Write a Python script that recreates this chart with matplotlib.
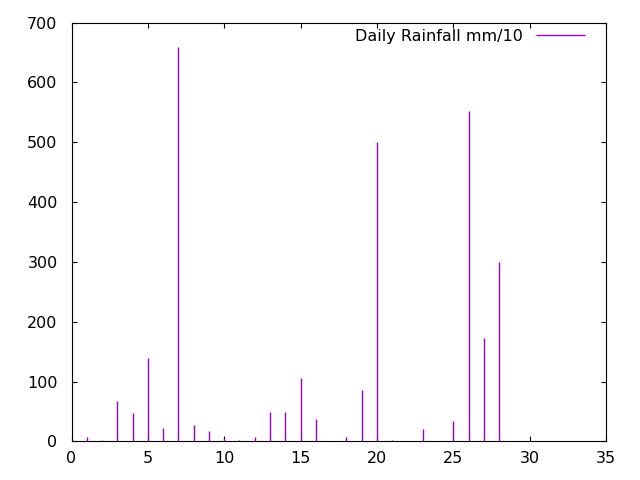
import matplotlib
matplotlib.use("Agg")
import matplotlib.pyplot as plt

days = [1, 2, 3, 4, 5, 6, 7, 8, 9, 10, 11, 12, 13, 14, 15, 16, 18, 19, 20, 21, 23, 25, 26, 27, 28]
rain = [8, 2, 67, 47, 139, 22, 660, 28, 18, 5, 3, 7, 49, 49, 106, 37, 7, 85, 500, 2, 20, 34, 552, 173, 300]
label = "Daily Rainfall mm/10"
color = "#9400D3"

plt.rcParams['font.family'] = ['DejaVu Sans']
fig = plt.figure(figsize=(6.4, 4.8), dpi=100)
ax = fig.add_axes([71.5/640, 1-441.3/480, (606-71.5)/640, (441.3-22.7)/480])
ax.vlines(days, 0, rain, colors=color, linewidth=1.0, label=label)
ax.set_xlim(0, 35)
ax.set_ylim(0, 700)
ax.set_xticks(range(0, 36, 5))
ax.set_yticks(range(0, 701, 100))
ax.tick_params(direction='in', length=3.5, width=0.8, top=True, right=True,
               labelsize=11.5, colors='black')
ax.tick_params(axis='x', pad=7)
ax.tick_params(axis='y', pad=10)
for s in ax.spines.values():
    s.set_linewidth(0.8)
leg = ax.legend(loc='upper right', frameon=False, markerfirst=False, fontsize=11.5,
                handlelength=3.06, handletextpad=0.8,
                bbox_to_anchor=(585/640, 1-29/480), bbox_transform=fig.transFigure,
                borderaxespad=0, borderpad=0)
fig.savefig("out.png", dpi=100)
